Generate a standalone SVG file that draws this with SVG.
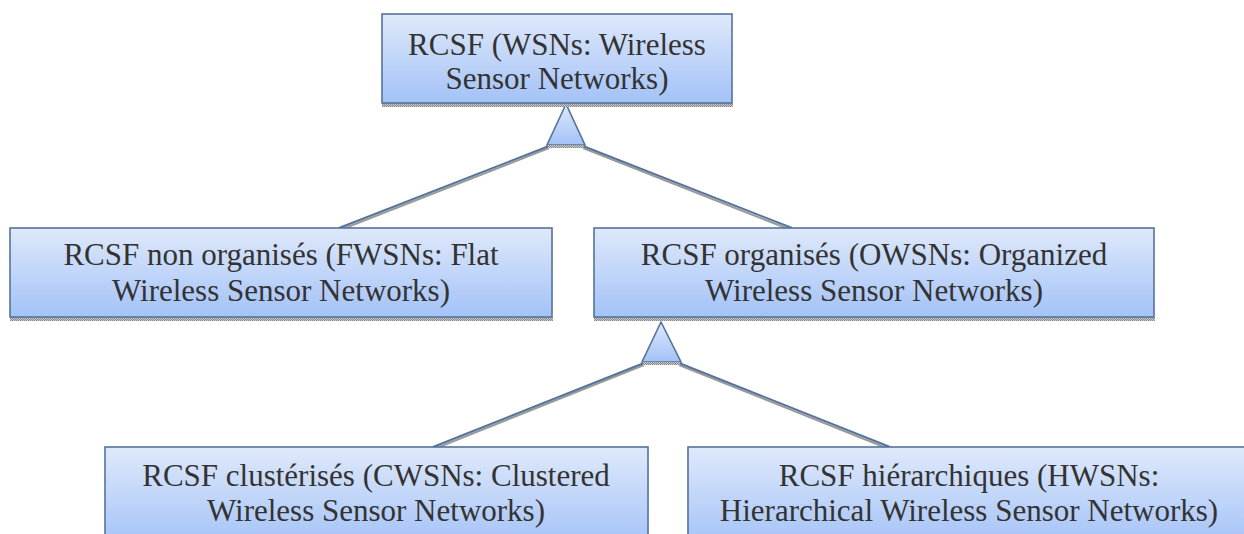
<svg xmlns="http://www.w3.org/2000/svg" width="1244" height="534" viewBox="0 0 1244 534">
<defs>
<linearGradient id="g" x1="0" y1="0" x2="0" y2="1">
<stop offset="0" stop-color="#dfe9fb"/>
<stop offset="1" stop-color="#a3c2f7"/>
</linearGradient>
<pattern id="sh" width="2" height="2" patternUnits="userSpaceOnUse">
<rect width="2" height="2" fill="#c8c8c8"/>
<rect width="1" height="1" fill="#8a8a8a"/>
<rect x="1" y="1" width="1" height="1" fill="#8a8a8a"/>
</pattern>
</defs>
<style>
.box{fill:url(#g);stroke:#55739b;stroke-width:1.6}
.shd{fill:url(#sh)}
.t{font-family:"Liberation Serif","Times New Roman",serif;font-size:31px;fill:#333;text-anchor:middle}
.c{stroke:#55739b;stroke-width:2;fill:none}
.cs{stroke:#9a9a9a;stroke-width:2;fill:none}
.tri{fill:url(#g);stroke:#55739b;stroke-width:1.6}
</style>
<g id="connectors">
<line class="cs" x1="549" y1="148" x2="340" y2="230"/>
<line class="cs" x1="583" y1="148" x2="791" y2="230"/>
<line class="c" x1="549" y1="146" x2="339" y2="228"/>
<line class="c" x1="583" y1="146" x2="792" y2="228"/>
<polygon class="tri" points="566,104 547,145 585,145"/>
<rect class="shd" x="548" y="145" width="36" height="3"/>
<line class="cs" x1="644" y1="365" x2="434" y2="449"/>
<line class="cs" x1="679" y1="365" x2="889" y2="449"/>
<line class="c" x1="644" y1="363" x2="433" y2="447"/>
<line class="c" x1="679" y1="363" x2="890" y2="447"/>
<polygon class="tri" points="661,322 642,362 681,362"/>
<rect class="shd" x="643" y="362" width="37" height="3"/>
</g>
<g id="root">
<rect class="shd" x="382" y="103" width="351" height="4"/>
<rect class="box" x="382" y="14" width="350" height="89"/>
<text class="t" x="557" y="55">RCSF (WSNs: Wireless</text>
<text class="t" x="557" y="89">Sensor Networks)</text>
</g>
<g id="flat">
<rect class="shd" x="10" y="317" width="543" height="4"/>
<rect class="box" x="10" y="228" width="542" height="89"/>
<text class="t" x="281" y="265">RCSF non organisés (FWSNs: Flat</text>
<text class="t" x="281" y="301">Wireless Sensor Networks)</text>
</g>
<g id="organized">
<rect class="shd" x="594" y="317" width="561" height="4"/>
<rect class="box" x="594" y="228" width="560" height="89"/>
<text class="t" x="874" y="265">RCSF organisés (OWSNs: Organized</text>
<text class="t" x="874" y="301">Wireless Sensor Networks)</text>
</g>
<g id="clustered">
<rect class="box" x="105" y="447" width="543" height="100"/>
<text class="t" x="376" y="486">RCSF clustérisés (CWSNs: Clustered</text>
<text class="t" x="376" y="521">Wireless Sensor Networks)</text>
</g>
<g id="hierarchical">
<rect class="box" x="688" y="447" width="562" height="100"/>
<text class="t" x="969" y="486">RCSF hiérarchiques (HWSNs:</text>
<text class="t" x="969" y="521">Hierarchical Wireless Sensor Networks)</text>
</g>
</svg>
